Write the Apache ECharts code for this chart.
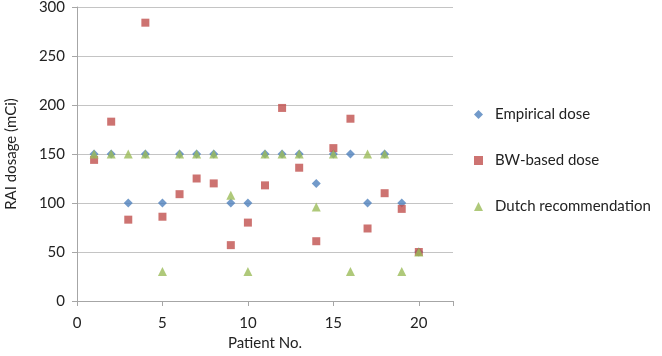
<!DOCTYPE html>
<html>
<head>
<meta charset="utf-8">
<script src="https://cdn.jsdelivr.net/npm/echarts@6/dist/echarts.min.js"></script>
<style>
  html, body { margin: 0; padding: 0; background: #fff; }
  #chart { width: 662px; height: 356px; }
</style>
</head>
<body>
<div id="chart"></div>
<script>
// patients 1..20
const patients = [1, 2, 3, 4, 5, 6, 7, 8, 9, 10, 11, 12, 13, 14, 15, 16, 17, 18, 19, 20];
const empiricalDose = [150, 150, 100, 150, 100, 150, 150, 150, 100, 100, 150, 150, 150, 120, 150, 150, 100, 150, 100, 50];
const bwBasedDose = [144, 183, 83, 284, 86, 109, 125, 120, 57, 80, 118, 197, 136, 61, 156, 186, 74, 110, 94, 50];
const dutchDose = [150, 150, 150, 150, 30, 150, 150, 150, 108, 30, 150, 150, 150, 96, 150, 30, 150, 150, 30, 50];
const seriesNames = ['Empirical dose', 'BW-based dose', 'Dutch recommendation'];

const pairs = (vals) => patients.map((p, i) => [p, vals[i]]);

const chart = echarts.init(document.getElementById('chart'));
const font = 'Lato, "Open Sans", sans-serif';

chart.setOption({
  animation: false,
  textStyle: { fontFamily: font },
  grid: { left: 77, right: 209, top: 7, bottom: 55, outerBoundsMode: 'none' },
  legend: {
    orient: 'vertical',
    left: 469,
    top: 102,
    itemGap: 31,
    itemWidth: 9,
    itemHeight: 9,
    textStyle: { fontSize: 15, color: '#222', fontFamily: font, padding: [0, 0, 0, 7] },
    data: seriesNames,
  },
  xAxis: {
    type: 'value',
    min: 0,
    max: 22,
    interval: 5,
    name: 'Patient No.',
    nameLocation: 'middle',
    nameGap: 35,
    nameTextStyle: { fontSize: 15, color: '#222' },
    axisLine: { lineStyle: { color: '#a6a6a6' } },
    axisTick: { show: true, length: 5, inside: false, lineStyle: { color: '#a6a6a6' } },
    axisLabel: {
      fontSize: 15,
      color: '#222',
      margin: 15,
      formatter: (v) => (v % 5 === 0 ? String(v) : ''),
    },
    splitLine: { show: false },
  },
  yAxis: {
    type: 'value',
    min: 0,
    max: 300,
    interval: 50,
    name: 'RAI dosage (mCi)',
    nameLocation: 'middle',
    nameGap: 58,
    nameTextStyle: { fontSize: 15, color: '#222' },
    axisLine: { show: true, lineStyle: { color: '#a6a6a6' } },
    axisTick: { show: true, length: 5, lineStyle: { color: '#a6a6a6' } },
    axisLabel: { fontSize: 15, color: '#222', margin: 12 },
    splitLine: { lineStyle: { color: '#c4c4c4' } },
  },
  series: [
    {
      name: seriesNames[0],
      type: 'scatter',
      symbol: 'diamond',
      symbolSize: 9,
      itemStyle: { color: '#4f81bd' },
      data: pairs(empiricalDose),
    },
    {
      name: seriesNames[1],
      type: 'scatter',
      symbol: 'rect',
      symbolSize: 8,
      itemStyle: { color: '#c0504d' },
      data: pairs(bwBasedDose),
    },
    {
      name: seriesNames[2],
      type: 'scatter',
      symbol: 'triangle',
      symbolSize: 9,
      itemStyle: { color: '#9bbb59' },
      data: pairs(dutchDose),
    },
  ],
});
</script>
</body>
</html>
